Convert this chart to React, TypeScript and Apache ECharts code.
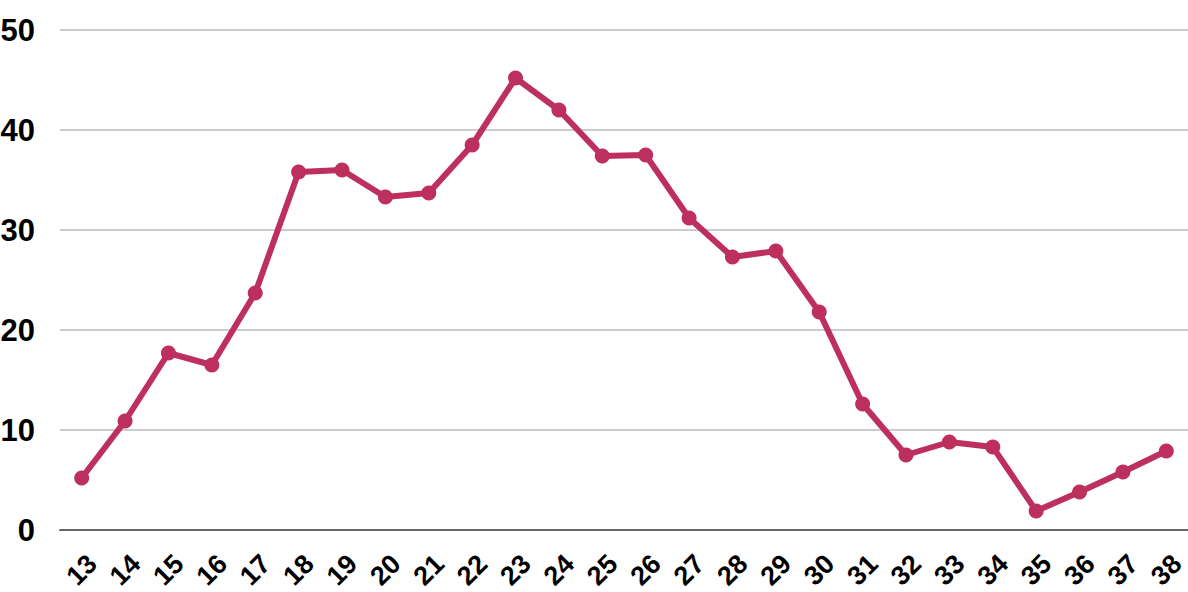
import React, { useEffect, useRef } from "react";
import * as echarts from "echarts";

const categories = ["13","14","15","16","17","18","19","20","21","22","23","24","25","26","27","28","29","30","31","32","33","34","35","36","37","38"];
const values = [5.2,10.9,17.7,16.5,23.7,35.8,36.0,33.3,33.7,38.5,45.2,42.0,37.4,37.5,31.2,27.3,27.9,21.8,12.6,7.5,8.8,8.3,1.9,3.8,5.8,7.9];
const yTicks = { min: 0, max: 50, interval: 10 };

const FONT = "'Liberation Sans Narrow', 'Liberation Sans', Roboto, sans-serif";
const LINE_COLOR = "#BD305E";

export default function App() {
  const ref = useRef<HTMLDivElement>(null);
  useEffect(() => {
    if (!ref.current) return;
    const chart = echarts.init(ref.current, null, { renderer: "svg" });
    chart.setOption({
      animation: false,
      backgroundColor: "#ffffff",
      grid: {
        left: 60,
        right: 0,
        top: 30,
        bottom: 62,
        containLabel: false,
        outerBoundsMode: "none",
      },
      xAxis: {
        type: "category",
        data: categories,
        boundaryGap: true,
        axisLine: { show: true, lineStyle: { color: "#666666", width: 2 } },
        axisTick: { show: false },
        axisLabel: {
          rotate: 45,
          align: "center",
          verticalAlign: "middle",
          margin: 40,
          interval: 0,
          fontFamily: FONT,
          fontWeight: "bold",
          fontSize: 27,
          lineHeight: 20,
          color: "#000000",
        },
        splitLine: { show: false },
      },
      yAxis: {
        type: "value",
        min: yTicks.min,
        max: yTicks.max,
        interval: yTicks.interval,
        axisLine: { show: false },
        axisTick: { show: false },
        axisLabel: {
          margin: 25,
          fontFamily: FONT,
          fontWeight: "bold",
          fontSize: 31,
          color: "#000000",
          verticalAlign: "middle",
          padding: [0, 0, 9, 0],
        },
        splitLine: { show: true, lineStyle: { color: "#BBBBBB", width: 1.5 } },
      },
      series: [
        {
          type: "line",
          data: values,
          symbol: "circle",
          symbolSize: 15,
          lineStyle: { color: LINE_COLOR, width: 6 },
          itemStyle: { color: LINE_COLOR },
          z: 5,
        },
      ],
    });
    return () => chart.dispose();
  }, []);
  return (
    <div
      ref={ref}
      style={{ position: "fixed", left: 0, top: 0, width: 1188, height: 592 }}
    />
  );
}
